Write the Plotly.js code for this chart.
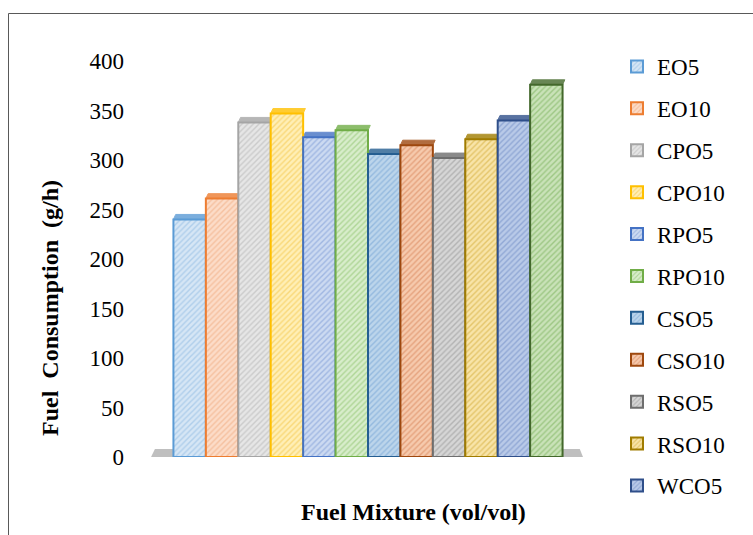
<!DOCTYPE html>
<html>
<head>
<meta charset="utf-8">
<script src="https://cdn.plot.ly/plotly-3.0.1.min.js"></script>
<style>
  html, body { margin: 0; padding: 0; background: #ffffff; }
  #chart { width: 753px; height: 535px; }
</style>
</head>
<body>
<div id="chart"></div>
<script>
// Fuel consumption (g/h) for each fuel mixture
const categories = ['EO5', 'EO10', 'CPO5', 'CPO10', 'RPO5', 'RPO10',
                    'CSO5', 'CSO10', 'RSO5', 'RSO10', 'WCO5', 'WCO10'];
const consumption = [240, 261, 338, 347, 323, 330, 306, 315, 302, 321, 340, 376];
const yTicks = [0, 50, 100, 150, 200, 250, 300, 350, 400];

// Colours: outline, hatch background, hatch stripes
const edgeColors   = ['#5B9BD5', '#ED7D31', '#A5A5A5', '#FFC000', '#4472C4', '#70AD47',
                      '#255E91', '#9E480E', '#6E6E6E', '#A07C00', '#2F4F8A', '#43682B'];
const faceColors   = ['#D6E6F5', '#FCDCC8', '#E6E6E6', '#FFEFB6', '#CCDAF1', '#D8EDCB',
                      '#BCD5EB', '#F6CAAD', '#D6D6D6', '#F8E4A8', '#B9CAE8', '#C9E2B8'];
const stripeColors = ['#AFCEEB', '#F5C09F', '#CBCBCB', '#F9D878', '#A0B7E2', '#AFD697',
                      '#95BADF', '#E5A27D', '#B3B3B3', '#E4C56A', '#91A8D5', '#9DC784'];

// Page geometry
const W = 753, H = 535;
const M = { l: 141, r: 158, t: 61, b: 78 };
const plotW = W - M.l - M.r, plotH = H - M.t - M.b;
const paperX = px => (px - M.l) / plotW;
const paperY = py => (H - M.b - py) / plotH;

const xs = categories.map((_, i) => i);

// One bar trace per mixture so each gets its own legend entry
const traces = categories.map((name, i) => ({
  type: 'bar',
  name: name,
  x: [xs[i]],
  y: [consumption[i]],
  width: 1,
  legendgroup: name,
  showlegend: i < categories.length - 1,
  marker: {
    color: faceColors[i],
    line: { color: edgeColors[i], width: 2 },
    pattern: {
      shape: '/',
      fillmode: 'replace',
      bgcolor: faceColors[i],
      fgcolor: stripeColors[i],
      size: 4,
      solidity: 0.35
    }
  },
  hovertemplate: name + ': %{y} g/h<extra></extra>'
}));

// Floor plane under the columns and a shallow top face on each column
const n = categories.length;
const floorDepth = 8, capDepth = 5, capShift = 0.07;
const shapes = [{
  type: 'path', xref: 'x', yref: 'y', layer: 'below',
  path: `M ${-1.19} 0 L ${-1.07} ${floorDepth} L ${n - 0.5 + 0.53} ${floorDepth} L ${n - 0.5 + 0.63} 0 Z`,
  fillcolor: '#BFBFBF', line: { width: 0 }
}];
consumption.forEach((v, i) => {
  shapes.push({
    type: 'path', xref: 'x', yref: 'y', layer: 'below',
    path: `M ${xs[i] - 0.5} ${v} L ${xs[i] - 0.5 + capShift} ${v + capDepth} ` +
          `L ${xs[i] + 0.5 + capShift} ${v + capDepth} L ${xs[i] + 0.5} ${v} Z`,
    fillcolor: edgeColors[i], opacity: 0.8,
    line: { color: edgeColors[i], width: 1 }
  });
});
// Chart frame
shapes.push({
  type: 'rect', xref: 'paper', yref: 'paper',
  x0: paperX(8.5), x1: paperX(W + 10), y0: paperY(H + 10), y1: paperY(13.5),
  line: { color: '#595959', width: 1 }, fillcolor: 'rgba(0,0,0,0)'
});

const serif = 'Liberation Serif';
const sp = '\u00A0\u00A0';

const layout = {
  width: W, height: H,
  margin: M,
  paper_bgcolor: '#ffffff',
  plot_bgcolor: 'rgba(0,0,0,0)',
  barmode: 'overlay',
  font: { family: serif, color: '#000000' },
  xaxis: {
    range: [-1.5, n + 0.5],
    showticklabels: false, showgrid: false, zeroline: false, showline: false,
    ticks: '', fixedrange: true
  },
  yaxis: {
    range: [0, 400],
    tickvals: yTicks,
    ticktext: yTicks.map(String),
    showgrid: false, zeroline: false, showline: false,
    ticks: '', ticklabelstandoff: 16,
    tickfont: { family: serif, size: 23, color: '#000000' },
    fixedrange: true
  },
  legend: {
    x: paperX(617), xanchor: 'left',
    y: paperY(45), yanchor: 'top',
    font: { family: serif, size: 23, color: '#000000' },
    tracegroupgap: 9,
    maxheight: 530,
    bgcolor: 'rgba(0,0,0,0)'
  },
  shapes: shapes,
  annotations: [
    {
      xref: 'paper', yref: 'paper', x: paperX(50), y: paperY(308),
      text: 'Fuel' + sp + 'Consumption' + sp + '(g/h)', textangle: -90, showarrow: false,
      font: { family: serif, size: 24, color: '#000000', weight: 'bold' },
      xanchor: 'center', yanchor: 'middle'
    },
    {
      xref: 'paper', yref: 'paper', x: paperX(413), y: paperY(512),
      text: 'Fuel Mixture (vol/vol)', showarrow: false,
      font: { family: serif, size: 24, color: '#000000', weight: 'bold' },
      xanchor: 'center', yanchor: 'middle'
    }
  ]
};

Plotly.newPlot('chart', traces, layout, { displayModeBar: false, staticPlot: true });
</script>
</body>
</html>
